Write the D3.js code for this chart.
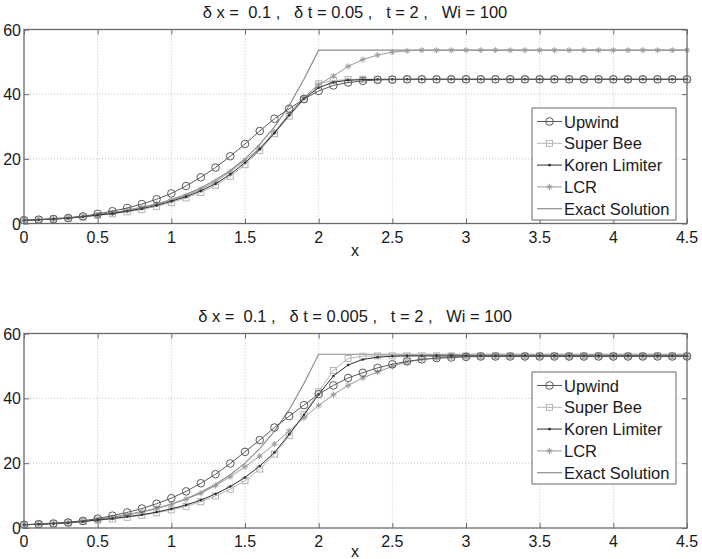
<!DOCTYPE html>
<html>
<head>
<meta charset="UTF-8" />
<script src="https://d3js.org/d3.v7.min.js"></script>
<style>
  body { margin: 0; background: #fff; }
  svg { display: block; font-family: "Liberation Sans", Arial, Helvetica, sans-serif; }
  .grid line { stroke: #c4c4c4; stroke-width: 1; stroke-dasharray: 1,2; }
  .frame { fill: none; stroke: #6a6a6a; stroke-width: 1.3; }
  .tick-label { font-size: 16px; fill: #1a1a1a; }
  .title { font-size: 16.5px; fill: #1a1a1a; white-space: pre; }
  .legend-text { font-size: 16.5px; fill: #1a1a1a; }
</style>
</head>
<body>
<svg width="702" height="559"></svg>
<script>
// x positions of the computed points
const xs = [0,0.1,0.2,0.3,0.4,0.5,0.6,0.7,0.8,0.9,1,1.1,1.2,1.3,1.4,1.5,1.6,1.7,1.8,1.9,
  2,2.1,2.2,2.3,2.4,2.5,2.6,2.7,2.8,2.9,3,3.1,3.2,3.3,3.4,3.5,3.6,3.7,3.8,3.9,
  4,4.1,4.2,4.3,4.4,4.5];

const xTicks = [0,0.5,1,1.5,2,2.5,3,3.5,4,4.5];
const yTicks = [0,20,40,60];
const seriesNames = ["Upwind","Super Bee","Koren Limiter","LCR","Exact Solution"];

// exact solution (same in both panels)
const exact = [1,1.2,1.5,1.8,2.2,2.7,3.3,4.1,5.0,6.0,7.4,9.0,11.0,13.5,16.4,20.0,24.5,29.9,36.5,44.6,
  53.6,53.6,53.6,53.6,53.6,53.6,53.6,53.6,53.6,53.6,53.6,53.6,53.6,53.6,53.6,53.6,53.6,53.6,53.6,53.6,
  53.6,53.6,53.6,53.6,53.6,53.6];

// top panel: dt = 0.05
const topUpwind = [1.0,1.2,1.4,1.7,2.2,3.0,3.8,4.8,6.0,7.5,9.3,11.6,14.3,17.3,20.8,24.6,28.6,32.4,35.5,38.5,
  41.0,42.7,43.6,44.1,44.4,44.5,44.6,44.6,44.6,44.6,44.6,44.6,44.6,44.6,44.6,44.6,44.6,44.6,44.6,44.6,
  44.6,44.6,44.6,44.6,44.6,44.6];
const topSuperBee = [1.0,1.15,1.35,1.6,2.0,2.5,3.0,3.6,4.3,5.3,6.5,7.9,9.6,11.8,14.6,18.2,22.6,27.8,33.2,38.4,
  43.2,44.2,44.5,44.6,44.6,44.6,44.6,44.6,44.6,44.6,44.6,44.6,44.6,44.6,44.6,44.6,44.6,44.6,44.6,44.6,
  44.6,44.6,44.6,44.6,44.6,44.6];
const topKoren = [1.0,1.15,1.35,1.65,2.1,2.6,3.1,3.8,4.6,5.6,6.9,8.3,10.1,12.3,15.2,18.8,23.0,28.0,33.5,38.6,
  42.0,43.7,44.3,44.5,44.6,44.6,44.6,44.6,44.6,44.6,44.6,44.6,44.6,44.6,44.6,44.6,44.6,44.6,44.6,44.6,
  44.6,44.6,44.6,44.6,44.6,44.6];
const topLCR = [1.0,1.2,1.4,1.7,2.2,2.7,3.3,4.1,5.0,6.1,7.2,8.6,10.6,12.9,16.0,19.5,23.3,28.3,34.0,39.0,
  43.0,45.6,48.6,50.7,52.1,53.0,53.4,53.6,53.6,53.6,53.6,53.6,53.6,53.6,53.6,53.6,53.6,53.6,53.6,53.6,
  53.6,53.6,53.6,53.6,53.6,53.6];

// bottom panel: dt = 0.005
const botUpwind = [1.0,1.2,1.4,1.7,2.2,2.9,3.8,4.8,6.0,7.5,9.2,11.3,13.8,16.6,19.9,23.5,27.1,31.0,34.5,37.9,
  41.3,44.0,46.3,47.9,49.4,50.5,51.4,52.0,52.4,52.6,52.8,52.9,52.9,52.9,52.9,52.9,52.9,52.9,52.9,52.9,
  52.9,52.9,52.9,52.9,52.9,52.9];
const botSuperBee = [1.0,1.15,1.35,1.6,2.0,2.4,2.8,3.3,3.9,4.7,5.6,6.7,8.1,9.9,12.0,14.6,18.2,22.8,28.5,35.0,
  42.0,48.6,52.3,53.0,53.1,53.1,53.1,53.1,53.1,53.1,53.1,53.1,53.1,53.1,53.1,53.1,53.1,53.1,53.1,53.1,
  53.1,53.1,53.1,53.1,53.1,53.1];
const botKoren = [1.0,1.15,1.35,1.6,2.0,2.5,2.9,3.5,4.1,4.9,5.9,7.1,8.6,10.5,12.8,15.6,19.1,23.3,28.9,34.9,
  41.2,46.9,50.3,52.0,52.7,53.0,53.1,53.1,53.1,53.1,53.1,53.1,53.1,53.1,53.1,53.1,53.1,53.1,53.1,53.1,
  53.1,53.1,53.1,53.1,53.1,53.1];
const botLCR = [1.0,1.2,1.4,1.65,2.1,2.6,3.2,4.0,5.0,6.1,7.3,8.9,10.7,13.1,15.8,18.9,22.2,25.9,30.0,34.0,
  37.8,41.1,44.0,46.3,48.1,49.9,51.2,52.0,52.4,52.7,52.9,52.9,52.9,52.9,52.9,52.9,52.9,52.9,52.9,52.9,
  52.9,52.9,52.9,52.9,52.9,52.9];

const styles = {
  "Upwind":         { color: "#5a5a5a", width: 1,   marker: "circle" },
  "Super Bee":      { color: "#b4b4b4", width: 1,   marker: "square" },
  "Koren Limiter":  { color: "#2e2e2e", width: 1,   marker: "dot" },
  "LCR":            { color: "#9a9a9a", width: 1,   marker: "star" },
  "Exact Solution": { color: "#8c8c8c", width: 1.2, marker: null }
};

const svg = d3.select("svg");

function drawMarker(g, type, color, x, y) {
  if (type === "circle") {
    g.append("circle").attr("cx", x).attr("cy", y).attr("r", 3.8)
      .attr("fill", "none").attr("stroke", color).attr("stroke-width", 1);
  } else if (type === "square") {
    g.append("rect").attr("x", x - 3).attr("y", y - 3).attr("width", 6).attr("height", 6)
      .attr("fill", "none").attr("stroke", color).attr("stroke-width", 1);
  } else if (type === "dot") {
    g.append("circle").attr("cx", x).attr("cy", y).attr("r", 1.3).attr("fill", color);
  } else if (type === "star") {
    const r = 3;
    const d = `M${x - r},${y}H${x + r}M${x},${y - r}V${y + r}` +
      `M${x - r * 0.7},${y - r * 0.7}L${x + r * 0.7},${y + r * 0.7}` +
      `M${x - r * 0.7},${y + r * 0.7}L${x + r * 0.7},${y - r * 0.7}`;
    g.append("path").attr("d", d).attr("stroke", color).attr("stroke-width", 1).attr("fill", "none");
  }
}

function drawPanel(top, bottom, titleText, series, legendTop, xLabelY) {
  const left = 24, right = 687;
  const x = d3.scaleLinear().domain([0, 4.5]).range([left, right]);
  const y = d3.scaleLinear().domain([0, 60]).range([bottom, top]);
  const g = svg.append("g");

  // grid
  const grid = g.append("g").attr("class", "grid");
  grid.selectAll(".gx").data(xTicks.slice(1, -1)).join("line")
    .attr("x1", d => x(d)).attr("x2", d => x(d)).attr("y1", top).attr("y2", bottom);
  grid.selectAll(".gy").data(yTicks.slice(1, -1)).join("line")
    .attr("x1", left).attr("x2", right).attr("y1", d => y(d)).attr("y2", d => y(d));

  // axes (matlab style: ticks inward on both sides)
  const tk = 5;
  g.append("g").attr("transform", `translate(0,${bottom})`)
    .call(d3.axisBottom(x).tickValues(xTicks).tickSize(-tk).tickFormat(""))
    .call(a => a.select(".domain").remove())
    .call(a => a.selectAll("line").attr("stroke", "#6a6a6a"));
  g.append("g").attr("transform", `translate(0,${top})`)
    .call(d3.axisTop(x).tickValues(xTicks).tickSize(-tk).tickFormat(""))
    .call(a => a.select(".domain").remove())
    .call(a => a.selectAll("line").attr("stroke", "#6a6a6a"));
  g.append("g").attr("transform", `translate(${left},0)`)
    .call(d3.axisLeft(y).tickValues(yTicks).tickSize(-tk).tickFormat(""))
    .call(a => a.select(".domain").remove())
    .call(a => a.selectAll("line").attr("stroke", "#6a6a6a"));
  g.append("g").attr("transform", `translate(${right},0)`)
    .call(d3.axisRight(y).tickValues(yTicks).tickSize(-tk).tickFormat(""))
    .call(a => a.select(".domain").remove())
    .call(a => a.selectAll("line").attr("stroke", "#6a6a6a"));

  // series
  const line = d3.line().x((d, i) => x(xs[i])).y(d => y(d));
  series.forEach(s => {
    const st = styles[s.name];
    g.append("path").datum(s.values).attr("d", line)
      .attr("fill", "none").attr("stroke", st.color).attr("stroke-width", st.width);
    if (st.marker) {
      const mg = g.append("g");
      s.values.forEach((v, i) => drawMarker(mg, st.marker, st.color, x(xs[i]), y(v)));
    }
  });

  g.append("rect").attr("class", "frame")
    .attr("x", left).attr("y", top).attr("width", right - left).attr("height", bottom - top);

  // tick labels
  g.selectAll(".xl").data(xTicks).join("text").attr("class", "tick-label")
    .attr("x", d => x(d)).attr("y", bottom + 19).attr("text-anchor", "middle").text(d => d);
  g.selectAll(".yl").data(yTicks).join("text").attr("class", "tick-label")
    .attr("x", left - 3).attr("y", d => y(d) + 6).attr("text-anchor", "end").text(d => d);

  g.append("text").attr("class", "tick-label").attr("x", 355).attr("y", xLabelY)
    .attr("text-anchor", "middle").text("x");

  g.append("text").attr("class", "title").attr("x", 355).attr("y", top - 11.5)
    .attr("text-anchor", "middle").text(titleText);

  // legend
  const lx = 532, lw = 144, lh = 112;
  const lg = g.append("g").attr("transform", `translate(${lx},${legendTop})`);
  lg.append("rect").attr("width", lw).attr("height", lh)
    .attr("fill", "#fff").attr("stroke", "#6a6a6a").attr("stroke-width", 1);
  seriesNames.forEach((name, i) => {
    const st = styles[name];
    const yy = 13.5 + i * 21.8;
    lg.append("line").attr("x1", 5).attr("x2", 30).attr("y1", yy).attr("y2", yy)
      .attr("stroke", st.color).attr("stroke-width", st.width);
    if (st.marker) drawMarker(lg, st.marker, st.color, 17.5, yy);
    lg.append("text").attr("class", "legend-text").attr("x", 32).attr("y", yy + 6).text(name);
  });
}

drawPanel(29.5, 223.5, "\u03b4 x =  0.1 ,   \u03b4 t = 0.05 ,   t = 2 ,   Wi = 100", [
  { name: "Exact Solution", values: exact },
  { name: "Super Bee", values: topSuperBee },
  { name: "LCR", values: topLCR },
  { name: "Koren Limiter", values: topKoren },
  { name: "Upwind", values: topUpwind }
], 108, 256);

drawPanel(333.5, 528, "\u03b4 x =  0.1 ,   \u03b4 t = 0.005 ,   t = 2 ,   Wi = 100", [
  { name: "Exact Solution", values: exact },
  { name: "Super Bee", values: botSuperBee },
  { name: "LCR", values: botLCR },
  { name: "Koren Limiter", values: botKoren },
  { name: "Upwind", values: botUpwind }
], 372, 557);
</script>
</body>
</html>
